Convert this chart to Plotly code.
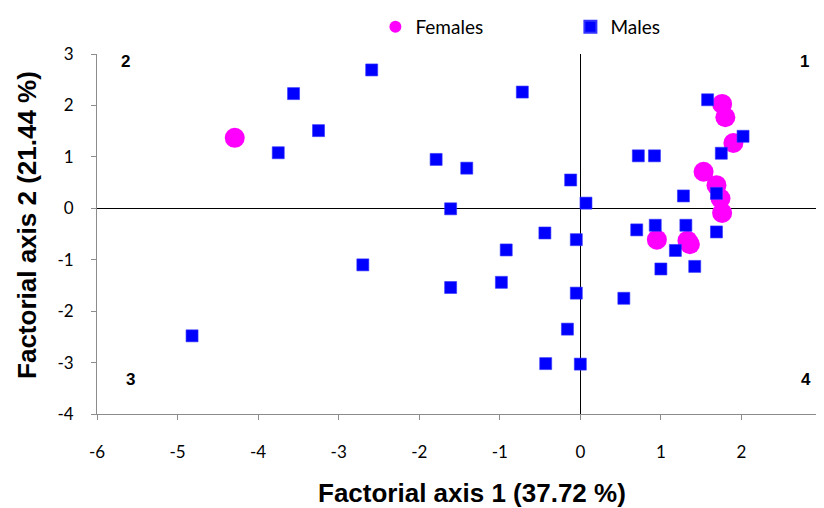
import plotly.graph_objects as go

# Females (magenta circles)
fem_x = [-4.29, 1.76, 1.80, 1.90, 1.53, 1.69, 1.74, 1.76, 0.95, 1.33, 1.36]
fem_y = [1.37, 2.03, 1.77, 1.27, 0.71, 0.45, 0.19, -0.09, -0.61, -0.63, -0.70]

# Males (blue squares)
male_x = [-4.82, -3.75, -3.56, -3.25, -2.59, -2.70, -1.79, -1.61, -1.61, -1.41,
          -0.98, -0.92, -0.72, -0.44, -0.43, -0.12, -0.16, -0.05, -0.05, 0.00,
          0.07, 0.54, 0.70, 0.72, 0.92, 0.93, 1.00, 1.18, 1.28, 1.31,
          1.42, 1.58, 1.69, 1.69, 1.75, 2.02]
male_y = [-2.48, 1.08, 2.23, 1.51, 2.69, -1.10, 0.95, -0.01, -1.54, 0.78,
          -1.44, -0.81, 2.26, -0.48, -3.02, 0.55, -2.35, -0.61, -1.65, -3.03,
          0.10, -1.75, -0.42, 1.02, 1.02, -0.33, -1.18, -0.82, 0.24, -0.33,
          -1.13, 2.11, 0.29, -0.46, 1.07, 1.40]

x_ticks = [-6, -5, -4, -3, -2, -1, 0, 1, 2, 3]
y_ticks = [-4, -3, -2, -1, 0, 1, 2, 3]
x_title = "Factorial axis 1 (37.72 %)"
y_title = "Factorial axis 2 (21.44 %)"
quadrant_labels = ["1", "2", "3", "4"]
quadrant_x = [2.78, -5.65, -5.59, 2.80]
quadrant_y = [2.86, 2.86, -3.33, -3.33]

fig = go.Figure()
fig.add_trace(go.Scatter(
    x=fem_x, y=fem_y, mode="markers", name="Females",
    marker=dict(symbol="circle", size=20, color="#FF00FF", line=dict(width=0)),
))
fig.add_trace(go.Scatter(
    x=male_x, y=male_y, mode="markers", name="Males",
    marker=dict(symbol="square", size=12, color="#0000FF",
                line=dict(width=0.6, color="#3333FF")),
))

for t, qx, qy in zip(quadrant_labels, quadrant_x, quadrant_y):
    fig.add_annotation(x=qx, y=qy, text=t, showarrow=False,
                       font=dict(family="Liberation Sans", size=17, color="black", weight="bold"),
                       xref="x", yref="y")

fig.add_annotation(x=0.517, y=-0.219, xref="paper", yref="paper", text=x_title,
                   showarrow=False, xanchor="center", yanchor="middle",
                   font=dict(family="Liberation Sans", size=26, color="black", weight="bold"))
fig.add_annotation(x=-0.0966, y=0.525, xref="paper", yref="paper", text=y_title,
                   showarrow=False, textangle=-90, xanchor="center", yanchor="middle",
                   font=dict(family="Liberation Sans", size=26, color="black", weight="bold"))

axis_common = dict(
    showgrid=False, showline=True, linecolor="#8c8c8c", linewidth=1,
    ticks="outside", ticklen=5, tickcolor="#8c8c8c", tickwidth=1,
    zeroline=True, zerolinecolor="black", zerolinewidth=1,
    tickfont=dict(family="Lato", size=17, color="black"),
    automargin=False,
)
fig.update_xaxes(range=[-6, 3], tickvals=x_ticks, ticktext=[str(v) for v in x_ticks],
                 ticklabelstandoff=18, **axis_common)
fig.update_yaxes(range=[-4, 3], tickvals=y_ticks, ticktext=[str(v) for v in y_ticks],
                 ticklabelstandoff=14, **axis_common)

# page body has an 8px margin, so the figure is offset by 8px
fig.update_layout(
    width=824, height=500,
    margin=dict(l=89, r=10, t=46, b=94, autoexpand=False),
    paper_bgcolor="white", plot_bgcolor="white",
    showlegend=True,
    legend=dict(orientation="h", x=0.384, xanchor="left",
                yref="container", y=1, yanchor="top",
                entrywidth=150, entrywidthmode="pixels",
                font=dict(family="Lato", size=19, color="black"),
                itemsizing="constant", bgcolor="rgba(0,0,0,0)"),
)

fig.write_html("out.html")
